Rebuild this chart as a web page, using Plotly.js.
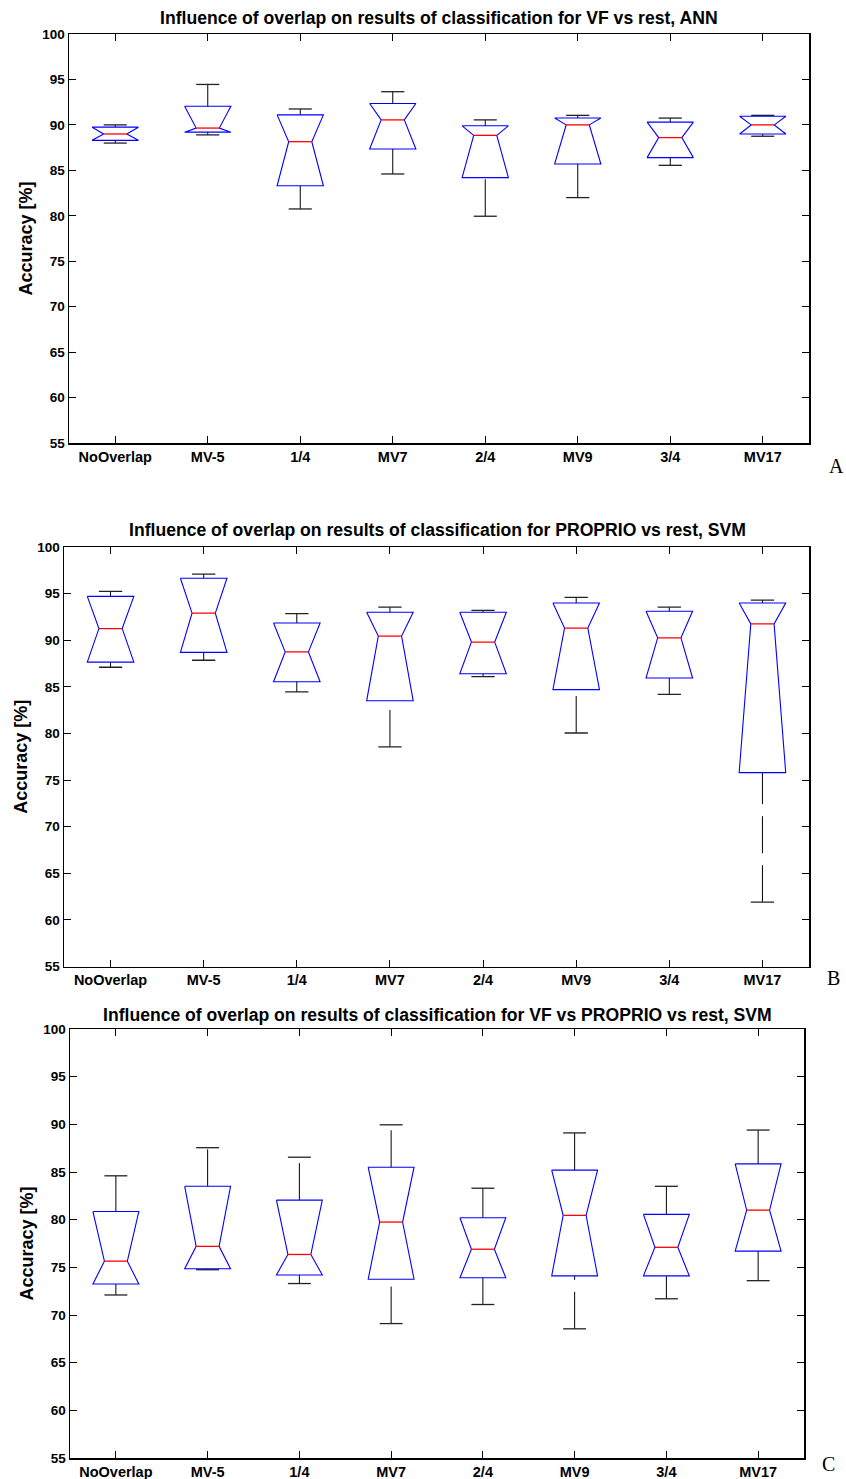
<!DOCTYPE html>
<html>
<head>
<meta charset="utf-8">
<script src="https://cdn.plot.ly/plotly-3.0.1.min.js"></script>
<style>html,body{margin:0;padding:0;background:#fff;}#chart{width:846px;height:1479px;}</style>
</head>
<body>
<div id="chart"></div>
<script>
// ---------- data ----------
var categories = ['NoOverlap', 'MV-5', '1/4', 'MV7', '2/4', 'MV9', '3/4', 'MV17'];
var yTickVals = [55, 60, 65, 70, 75, 80, 85, 90, 95, 100];

var titleA = 'Influence of overlap on results of classification for VF vs rest, ANN';
var titleB = 'Influence of overlap on results of classification for PROPRIO vs rest, SVM';
var titleC = 'Influence of overlap on results of classification for VF vs PROPRIO vs rest, SVM';
var yTitle = 'Accuracy [%]';
var panelLabels = ['A', 'B', 'C'];

// Panel A (VF vs rest, ANN)
var aLow  = [88.0, 88.9, 80.75, 84.6, 79.95, 82.0, 85.55, 88.75];
var aQ1   = [88.3, 89.2, 83.3, 87.35, 84.2, 85.7, 86.4, 89.0];
var aMed  = [89.0, 89.65, 88.15, 90.55, 88.85, 90.0, 88.6, 90.0];
var aQ3   = [89.75, 92.05, 91.1, 92.35, 89.9, 90.75, 90.3, 90.95];
var aHigh = [90.0, 94.45, 91.75, 93.65, 90.55, 91.05, 90.75, 91.05];

// Panel B (PROPRIO vs rest, SVM)
var bLow  = [87.1, 87.85, 84.45, 78.55, 86.1, 80.05, 84.2, 61.9];
var bQ1   = [87.65, 88.7, 85.55, 83.5, 86.4, 84.7, 85.95, 75.8];
var bMed  = [91.25, 92.9, 88.75, 90.45, 89.8, 91.3, 90.25, 91.75];
var bQ3   = [94.7, 96.65, 91.85, 93.0, 93.0, 94.0, 93.1, 94.0];
var bHigh = [95.25, 97.1, 92.85, 93.55, 93.2, 94.6, 93.55, 94.3];

// Panel C (VF vs PROPRIO vs rest, SVM)
var cLow  = [72.1, 74.75, 73.3, 69.1, 71.1, 68.55, 71.7, 73.6];
var cQ1   = [73.25, 74.85, 74.2, 73.75, 73.9, 74.1, 74.1, 76.7];
var cMed  = [75.65, 77.2, 76.35, 79.75, 76.9, 80.45, 77.1, 81.0];
var cQ3   = [80.85, 83.5, 82.05, 85.5, 80.2, 85.2, 80.55, 85.85];
var cHigh = [84.6, 87.55, 86.55, 89.95, 83.3, 89.1, 83.5, 89.4];

// ---------- styles ----------
var HALF = 0.25;     // half box width (category units)
var PINCH = 0.125;   // half width at notch / median / caps
var BOX_COLOR = '#0000ff';
var MED_COLOR = '#ff0000';
var WHISK_COLOR = '#000000';
var CAP_COLOR = '#222222';
var FONT = 'Liberation Sans, Arial, Helvetica, sans-serif';

var panels = [
  {low: aLow, q1: aQ1, med: aMed, q3: aQ3, high: aHigh, title: titleA, x: 'x', y: 'y'},
  {low: bLow, q1: bQ1, med: bMed, q3: bQ3, high: bHigh, title: titleB, x: 'x2', y: 'y2'},
  {low: cLow, q1: cQ1, med: cMed, q3: cQ3, high: cHigh, title: titleC, x: 'x3', y: 'y3'}
];

var traces = [];
function seg(xs, ys, xa, ya, line) {
  traces.push({type: 'scatter', mode: 'lines', x: xs, y: ys, xaxis: xa, yaxis: ya,
    line: line, hoverinfo: 'skip', showlegend: false});
}

panels.forEach(function (p) {
  var bx = [], by = [], mx = [], my = [], cx = [], cy = [];
  categories.forEach(function (c, i) {
    var x = i + 1;
    // whiskers: dashed, drawn from the lower end upward (one trace each so dashes start there)
    seg([x, x], [p.low[i], p.q1[i]], p.x, p.y, {color: WHISK_COLOR, width: 1, dash: '37px,12px'});
    seg([x, x], [p.q3[i], p.high[i]], p.x, p.y, {color: WHISK_COLOR, width: 1, dash: '37px,12px'});
    // notched box outline
    bx.push(x - HALF, x + HALF, x + PINCH, x + HALF, x - HALF, x - PINCH, x - HALF, null);
    by.push(p.q3[i], p.q3[i], p.med[i], p.q1[i], p.q1[i], p.med[i], p.q3[i], null);
    // median
    mx.push(x - PINCH, x + PINCH, null);
    my.push(p.med[i], p.med[i], null);
    // caps
    cx.push(x - PINCH, x + PINCH, null, x - PINCH, x + PINCH, null);
    cy.push(p.high[i], p.high[i], null, p.low[i], p.low[i], null);
  });
  seg(cx, cy, p.x, p.y, {color: CAP_COLOR, width: 1.3});
  seg(bx, by, p.x, p.y, {color: BOX_COLOR, width: 1.1});
  seg(mx, my, p.x, p.y, {color: MED_COLOR, width: 1.3});
});

// ---------- layout ----------
var W = 846, H = 1479;
function xdom(l, r) { return [l / W, r / W]; }
function ydom(top, bottom) { return [1 - bottom / H, 1 - top / H]; }

function xaxis(dom, anchor) {
  return {domain: dom, anchor: anchor, range: [0.5, 8.5], tickmode: 'array',
    tickvals: categories.map(function (c, i) { return i + 1; }), ticktext: categories,
    ticks: 'inside', ticklen: 7, tickwidth: 1, tickcolor: '#000',
    showline: true, linecolor: '#000', linewidth: 1.5, mirror: 'ticks',
    showgrid: false, zeroline: false, fixedrange: true,
    tickfont: {family: FONT, size: 14.5, color: '#000', weight: 'bold'}};
}
function yaxis(dom, anchor) {
  return {domain: dom, anchor: anchor, range: [55, 100], tickmode: 'array', tickvals: yTickVals,
    ticks: 'inside', ticklen: 7, tickwidth: 1, tickcolor: '#000',
    showline: true, linecolor: '#000', linewidth: 1.5, mirror: 'ticks',
    showgrid: false, zeroline: false, fixedrange: true,
    tickfont: {family: FONT, size: 13.5, color: '#000', weight: 'bold'},
    title: {text: yTitle, standoff: 5, font: {family: FONT, size: 18, color: '#000', weight: 'bold'}}};
}

var titleFont = {family: FONT, size: 17.6, color: '#000', weight: 'bold'};
var serifFont = {family: 'Liberation Serif, Times New Roman, serif', size: 20, color: '#000'};
var layout = {
  width: W, height: H, autosize: false,
  margin: {l: 0, r: 0, t: 0, b: 0},
  paper_bgcolor: '#fff', plot_bgcolor: '#fff',
  showlegend: false,
  xaxis: xaxis(xdom(69, 809), 'y'),
  yaxis: yaxis(ydom(34, 443), 'x'),
  xaxis2: xaxis(xdom(64, 809), 'y2'),
  yaxis2: yaxis(ydom(547, 966.5), 'x2'),
  xaxis3: xaxis(xdom(70, 804), 'y3'),
  yaxis3: yaxis(ydom(1029, 1458), 'x3'),
  annotations: [
    {text: titleA, xref: 'paper', yref: 'paper', x: 439 / W, y: 1 - 18 / H, xanchor: 'center', yanchor: 'middle', showarrow: false, font: titleFont},
    {text: titleB, xref: 'paper', yref: 'paper', x: 437 / W, y: 1 - 530 / H, xanchor: 'center', yanchor: 'middle', showarrow: false, font: titleFont},
    {text: titleC, xref: 'paper', yref: 'paper', x: 437 / W, y: 1 - 1015 / H, xanchor: 'center', yanchor: 'middle', showarrow: false, font: titleFont},
    {text: panelLabels[0], xref: 'paper', yref: 'paper', x: 836 / W, y: 1 - 466 / H, xanchor: 'center', yanchor: 'middle', showarrow: false, font: serifFont},
    {text: panelLabels[1], xref: 'paper', yref: 'paper', x: 833 / W, y: 1 - 978 / H, xanchor: 'center', yanchor: 'middle', showarrow: false, font: serifFont},
    {text: panelLabels[2], xref: 'paper', yref: 'paper', x: 828 / W, y: 1 - 1464 / H, xanchor: 'center', yanchor: 'middle', showarrow: false, font: serifFont}
  ]
};

Plotly.newPlot('chart', traces, layout, {displayModeBar: false, staticPlot: true});
</script>
</body>
</html>
